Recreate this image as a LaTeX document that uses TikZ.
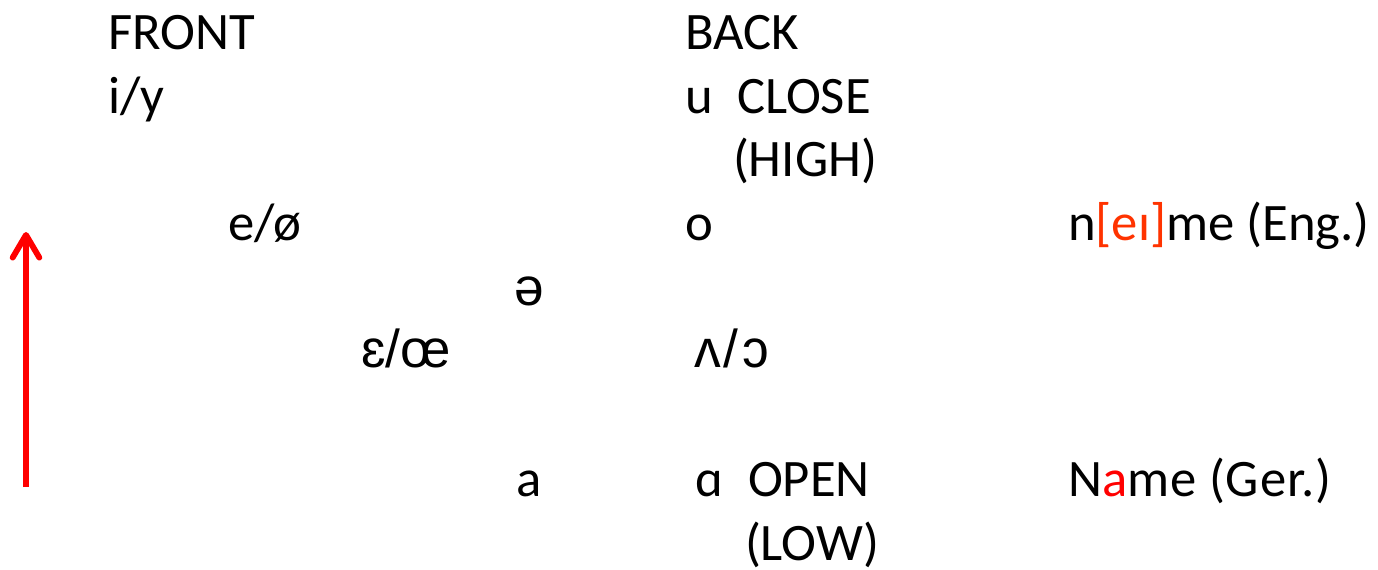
\documentclass[tikz,border=0pt]{standalone}
\usepackage{fontspec}
\setmainfont{Carlito}
\newfontfamily\ipafont{Liberation Sans}
\usetikzlibrary{arrows.meta}
\definecolor{vowelred}{RGB}{255,0,0}
\definecolor{diphred}{RGB}{255,51,0}
\tikzset{
  lbl/.style={anchor=base west, inner sep=0pt, outer sep=0pt, font=\fontsize{39.5}{46}\selectfont},
  ipa/.style={lbl, font=\fontsize{40}{46}\ipafont},
  height/.style={draw=vowelred, line width=4.4pt,
    -{Straight Barb[length=17pt,width=20pt,line cap=round,line join=round]}}
}
\begin{document}
\begin{tikzpicture}[x=0.75pt,y=-0.75pt]
\useasboundingbox (0,0) rectangle (1378,569);
% column headings
\node[lbl] (front) at (108,49) {FRONT};
\node[lbl] (back) at (685,49) {BACK};
% close vowels
\node[lbl] (iy) at (108,113) {i/y};
\node[lbl] (u) at (685,113) {u};
\node[lbl] (close) at (737,113) {CLOSE};
\node[lbl] (high) at (733,176) {(HIGH)};
% close-mid
\node[lbl] (eo) at (228,240) {e/ø};
\node[lbl] (o) at (685,240) {o};
\node[lbl] (name1) at (1068,240) {n\textcolor{diphred}{[eɪ]}me (Eng.)};
% mid
\node[ipa] (schwa) at (514,305) {ə};
% open-mid
\node[ipa] (eps) at (361,367) {ɛ/œ};
\node[ipa] (vee) at (694,367) {ʌ\kern2.5pt/\kern2.5ptɔ};
% open
\node[lbl] (a) at (516,496) {a};
\node[lbl] (alpha) at (695,496) {ɑ};
\node[lbl] (open) at (748,496) {OPEN};
\node[lbl] (low) at (745,560) {(LOW)};
\node[lbl] (name2) at (1068,496) {\addfontfeature{LetterSpace=1.6}N\textcolor{vowelred}{a}me (Ger.)};
% height arrow
\coordinate (arrbot) at (26,487);
\coordinate (arrtop) at (26,232);
\draw[height] (arrbot) -- (arrtop);
\end{tikzpicture}
\end{document}
